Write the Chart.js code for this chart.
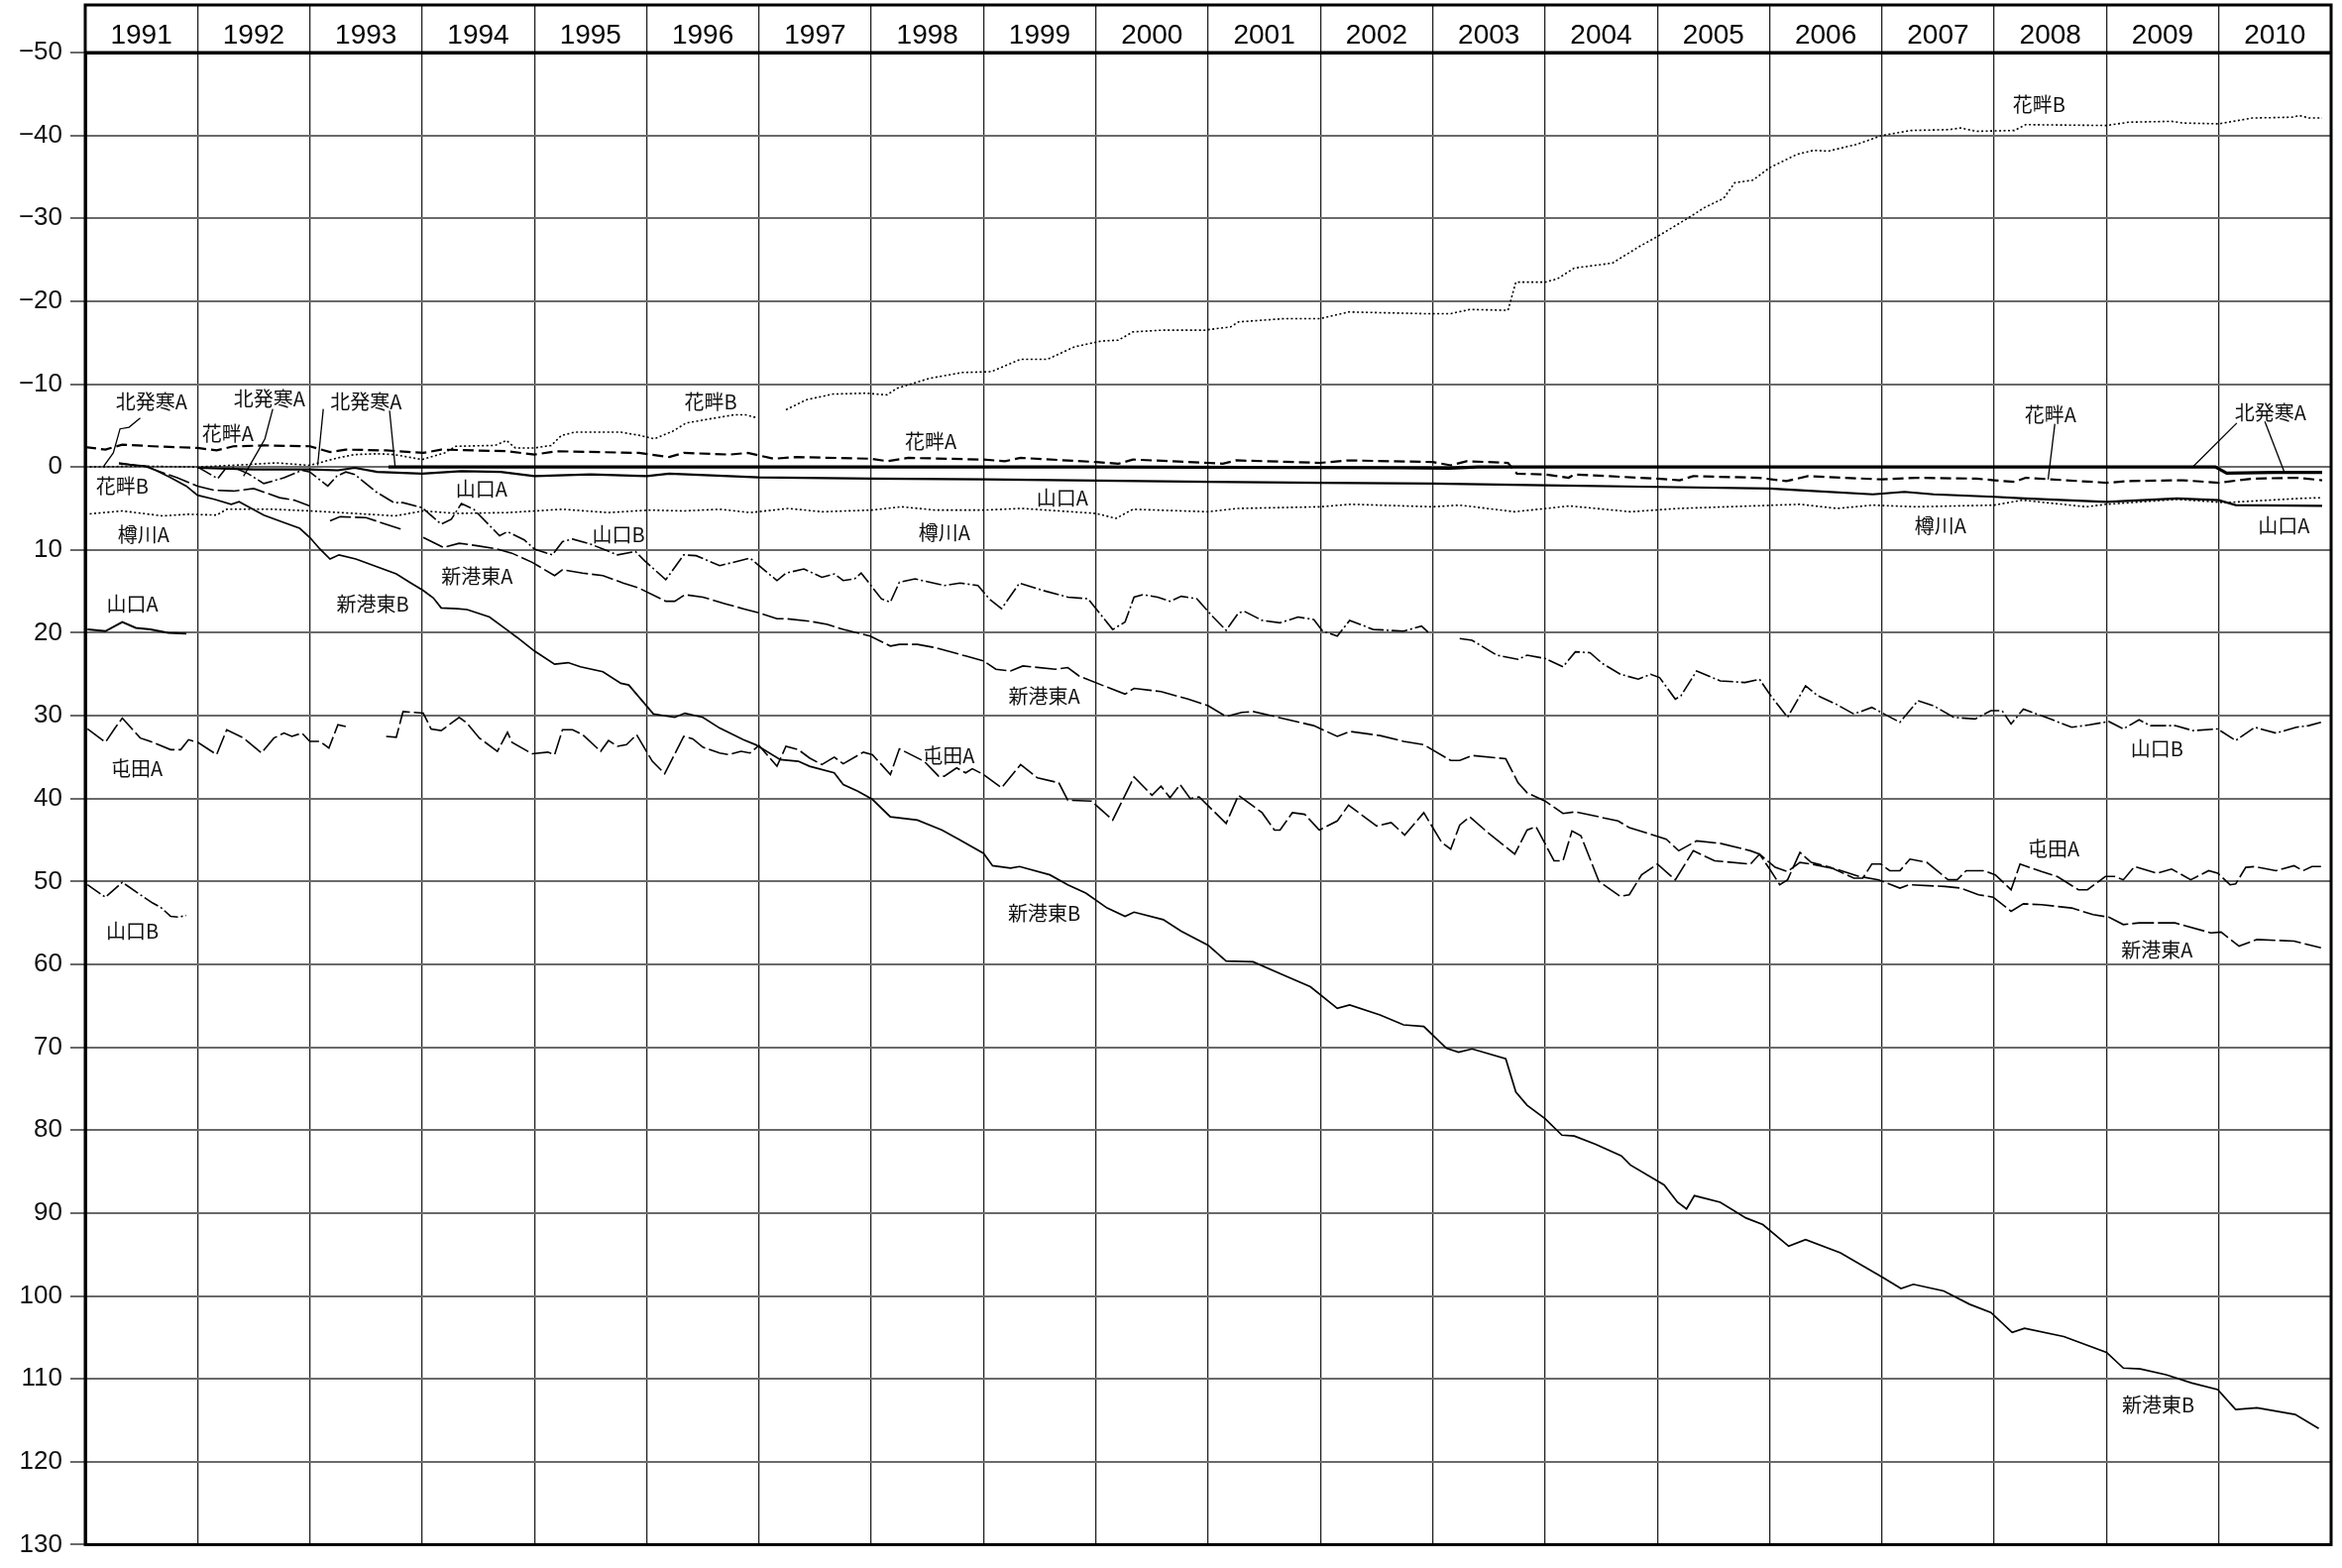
<!DOCTYPE html>
<html>
<head>
<meta charset="utf-8" />
<title>累積沈下量 1991-2010</title>
<script src="https://cdn.jsdelivr.net/npm/chart.js@4.4.1/dist/chart.umd.min.js"></script>
<style>
  html, body { margin: 0; padding: 0; background: #fff; }
</style>
</head>
<body>
<canvas id="myChart" width="2363" height="1582"></canvas>
<script>
// years shown in the header row, depth ticks on the left
var years = [1991,1992,1993,1994,1995,1996,1997,1998,1999,2000,2001,2002,2003,2004,2005,2006,2007,2008,2009,2010];
var depthTicks = [-50,-40,-30,-20,-10,0,10,20,30,40,50,60,70,80,90,100,110,120,130];

// [decimal year, value]; null = no survey (gap in line)
var kitahassamuA = [[1993.7,0],[1996,0],[2000,0],[2002.7,0.1],[2003.15,0.15],[2003.4,0],[2009.97,0],[2010.07,0.75],[2010.5,0.65],[2010.92,0.65]];

var hanaguroA = [[1991.0,-2.4],[1991.18,-2.1],[1991.33,-2.7],[1991.6,-2.5],[1992.0,-2.3],[1992.17,-2.0],[1992.32,-2.5],[1992.6,-2.6],[1993.0,-2.5],[1993.18,-1.8],[1993.32,-2.1],[1993.68,-2.0],[1994.01,-1.7],[1994.17,-2.1],[1994.76,-1.9],[1995.0,-1.5],[1995.2,-1.9],[1995.93,-1.7],[1996.2,-1.2],[1996.33,-1.7],[1996.74,-1.5],[1996.9,-1.7],[1997.13,-1.0],[1997.33,-1.2],[1998.0,-1.0],[1998.14,-0.7],[1998.33,-1.1],[1999.0,-0.9],[1999.19,-0.7],[1999.33,-1.1],[2000.0,-0.6],[2000.2,-0.4],[2000.33,-0.9],[2001.0,-0.5],[2001.13,-0.4],[2001.25,-0.8],[2002.0,-0.5],[2002.24,-0.8],[2003.0,-0.6],[2003.16,-0.2],[2003.3,-0.7],[2003.67,-0.5],[2003.75,0.8],[2004.0,0.9],[2004.21,1.3],[2004.26,0.9],[2005.0,1.4],[2005.2,1.6],[2005.32,1.1],[2005.9,1.3],[2006.15,1.7],[2006.34,1.1],[2007.0,1.5],[2007.3,1.3],[2007.84,1.4],[2008.0,1.6],[2008.18,1.8],[2008.28,1.3],[2009.0,1.9],[2009.2,1.7],[2009.68,1.6],[2010.0,1.9],[2010.3,1.4],[2010.7,1.3],[2010.92,1.6]];

var hanaguroB = [[1991.0,0],[1991.5,-0.1],[1992.0,0],[1992.45,-0.3],[1992.7,-0.5],[1993.0,-0.2],[1993.08,-0.5],[1993.25,-1.1],[1993.4,-1.5],[1993.6,-1.6],[1993.75,-1.5],[1994.0,-0.9],[1994.2,-1.7],[1994.3,-2.5],[1994.65,-2.6],[1994.75,-3.2],[1994.83,-2.3],[1995.0,-2.3],[1995.15,-2.6],[1995.24,-3.8],[1995.36,-4.2],[1995.77,-4.2],[1995.94,-3.8],[1996.07,-3.4],[1996.23,-4.3],[1996.35,-5.3],[1996.56,-5.8],[1996.78,-6.3],[1996.88,-6.3],[1996.99,-5.9],[1997.1,null],[1997.24,-6.9],[1997.42,-8.1],[1997.66,-8.8],[1997.95,-8.9],[1998.14,-8.7],[1998.23,-9.5],[1998.52,-10.7],[1998.81,-11.4],[1999.07,-11.5],[1999.33,-13.0],[1999.57,-13.0],[1999.81,-14.5],[2000.05,-15.2],[2000.2,-15.3],[2000.33,-16.3],[2000.58,-16.5],[2000.96,-16.5],[2001.2,-16.9],[2001.27,-17.5],[2001.68,-17.9],[2002.0,-17.9],[2002.25,-18.7],[2002.91,-18.5],[2003.16,-18.5],[2003.33,-19.0],[2003.67,-18.9],[2003.74,-22.3],[2004.0,-22.3],[2004.11,-22.7],[2004.26,-24.0],[2004.6,-24.6],[2004.84,-26.6],[2005.0,-27.8],[2005.27,-30.0],[2005.42,-31.3],[2005.59,-32.4],[2005.69,-34.3],[2005.85,-34.6],[2006.0,-36.1],[2006.24,-37.7],[2006.39,-38.2],[2006.52,-38.1],[2006.77,-38.9],[2007.0,-40.0],[2007.26,-40.6],[2007.6,-40.7],[2007.7,-40.9],[2007.84,-40.5],[2008.18,-40.6],[2008.28,-41.3],[2009.0,-41.2],[2009.2,-41.6],[2009.58,-41.7],[2009.68,-41.5],[2010.0,-41.4],[2010.3,-42.1],[2010.65,-42.2],[2010.72,-42.4],[2010.8,-42.1],[2010.92,-42.1]];

var tarukawaA = [[1991.0,5.7],[1991.33,5.3],[1991.69,5.9],[1991.92,5.7],[1992.17,5.8],[1992.26,5.1],[1992.68,5.1],[1993.0,5.3],[1993.4,5.6],[1993.76,5.9],[1994.01,5.3],[1994.3,5.6],[1994.76,5.5],[1995.25,5.1],[1995.66,5.5],[1996.02,5.2],[1996.33,5.3],[1996.65,5.1],[1996.92,5.5],[1997.26,5.0],[1997.56,5.4],[1998.0,5.2],[1998.27,4.8],[1998.57,5.2],[1999.0,5.2],[1999.34,5.0],[2000.0,5.6],[2000.18,6.2],[2000.33,5.1],[2001.0,5.4],[2001.26,5.0],[2002.0,4.8],[2002.27,4.5],[2003.0,4.8],[2003.24,4.6],[2003.73,5.4],[2004.22,4.7],[2004.76,5.4],[2005.19,5.0],[2005.84,4.7],[2006.27,4.5],[2006.6,5.0],[2006.92,4.6],[2007.3,4.8],[2008.0,4.6],[2008.25,4.0],[2008.82,4.8],[2009.0,4.5],[2009.63,3.9],[2010.06,4.3],[2010.71,3.8],[2010.92,3.7]];

var yamaguchiA1991 = [[1991.02,19.6],[1991.18,19.8],[1991.33,18.7],[1991.45,19.4],[1991.58,19.6],[1991.74,20.0],[1991.9,20.1]];
var yamaguchiA = [[1992.0,0.1],[1992.5,0.3],[1993.0,0.3],[1993.25,0.4],[1993.4,0.1],[1993.6,0.6],[1994.0,0.8],[1994.35,0.5],[1994.7,0.6],[1995.0,1.1],[1995.5,0.9],[1996.0,1.1],[1996.2,0.8],[1997.0,1.25],[1998.0,1.4],[1999.0,1.5],[2000.0,1.65],[2001.0,1.8],[2002.0,1.9],[2003.0,2.0],[2004.0,2.2],[2005.0,2.4],[2006.0,2.6],[2006.27,2.8],[2006.92,3.3],[2007.2,3.0],[2007.46,3.3],[2008.0,3.6],[2008.27,3.8],[2009.0,4.2],[2009.63,3.8],[2010.0,4.0],[2010.15,4.6],[2010.92,4.7]];

var yamaguchiB1991 = [[1991.02,50.4],[1991.18,51.9],[1991.33,50.1],[1991.49,51.6],[1991.6,52.6],[1991.67,53.1],[1991.76,54.2],[1991.83,54.3],[1991.9,54.1]];
var yamaguchiB = [[1992.0,0],[1992.18,1.4],[1992.25,0.2],[1992.33,0.1],[1992.45,0.8],[1992.59,2.0],[1992.77,1.3],[1992.93,0.4],[1993.0,0.6],[1993.16,2.3],[1993.24,1.1],[1993.32,0.6],[1993.4,0.9],[1993.59,3.0],[1993.75,4.3],[1993.83,4.3],[1994.0,4.9],[1994.17,6.9],[1994.26,6.3],[1994.35,4.4],[1994.46,5.1],[1994.69,8.3],[1994.76,7.8],[1994.91,8.8],[1995.0,9.9],[1995.16,10.6],[1995.25,9.0],[1995.34,8.7],[1995.5,9.3],[1995.74,10.6],[1995.9,10.2],[1995.98,11.3],[1996.17,13.6],[1996.33,10.6],[1996.44,10.7],[1996.65,11.9],[1996.92,11.0],[1997.16,13.7],[1997.24,12.8],[1997.4,12.3],[1997.56,13.3],[1997.67,12.9],[1997.75,13.7],[1997.85,13.5],[1997.91,12.8],[1998.09,15.9],[1998.17,16.3],[1998.25,13.9],[1998.39,13.5],[1998.65,14.3],[1998.79,14.0],[1998.95,14.3],[1999.05,15.9],[1999.16,17.1],[1999.32,14.0],[1999.53,14.9],[1999.75,15.7],[1999.93,15.9],[2000.15,19.6],[2000.26,18.7],[2000.34,15.7],[2000.42,15.4],[2000.55,15.7],[2000.66,16.2],[2000.76,15.6],[2000.9,15.9],[2001.03,17.9],[2001.16,19.7],[2001.27,17.6],[2001.32,17.4],[2001.48,18.5],[2001.64,18.8],[2001.8,18.1],[2001.94,18.4],[2002.02,19.8],[2002.15,20.4],[2002.26,18.5],[2002.47,19.6],[2002.74,19.8],[2002.9,19.2],[2002.98,20.2],[2003.1,null],[2003.24,20.7],[2003.35,20.9],[2003.57,22.7],[2003.76,23.2],[2003.84,22.7],[2004.0,23.1],[2004.16,24.1],[2004.27,22.3],[2004.4,22.4],[2004.51,23.7],[2004.67,25.0],[2004.83,25.6],[2004.94,25.0],[2005.02,25.4],[2005.16,28.0],[2005.21,27.6],[2005.35,24.6],[2005.56,25.8],[2005.78,26.0],[2005.91,25.6],[2006.0,27.4],[2006.16,30.2],[2006.32,26.4],[2006.43,27.6],[2006.59,28.6],[2006.75,29.8],[2006.91,29.0],[2007.02,29.8],[2007.16,30.8],[2007.32,28.2],[2007.46,28.8],[2007.64,30.2],[2007.83,30.4],[2007.97,29.4],[2008.07,29.4],[2008.15,31.0],[2008.26,29.2],[2008.48,30.3],[2008.69,31.4],[2008.85,31.1],[2009.02,30.7],[2009.15,31.6],[2009.29,30.5],[2009.39,31.2],[2009.61,31.2],[2009.77,31.8],[2009.99,31.6],[2010.15,33.0],[2010.32,31.4],[2010.51,32.1],[2010.69,31.4],[2010.8,31.2],[2010.91,30.8]];

var shinkoHigashiA = [[1991.3,-0.5],[1991.55,0],[1991.82,1.3],[1992.0,2.3],[1992.15,2.8],[1992.32,2.9],[1992.5,2.6],[1992.73,3.7],[1992.86,4.0],[1993.0,4.7],[1993.08,null],[1993.18,6.5],[1993.27,6.0],[1993.5,6.1],[1993.81,7.5],[1993.9,null],[1994.01,8.5],[1994.19,9.7],[1994.33,9.2],[1994.49,9.5],[1994.67,9.9],[1994.8,10.4],[1994.98,11.5],[1995.18,13.1],[1995.25,12.4],[1995.43,12.8],[1995.61,13.1],[1995.79,14.0],[1995.93,14.6],[1996.17,16.2],[1996.25,16.2],[1996.34,15.4],[1996.5,15.7],[1996.7,16.5],[1996.86,17.1],[1997.0,17.6],[1997.16,18.3],[1997.24,18.3],[1997.45,18.6],[1997.61,19.0],[1997.75,19.6],[1997.99,20.4],[1998.17,21.6],[1998.25,21.4],[1998.41,21.4],[1998.57,21.8],[1998.84,22.8],[1999.0,23.4],[1999.11,24.4],[1999.24,24.6],[1999.35,24.0],[1999.64,24.4],[1999.75,24.2],[1999.85,25.2],[2000.07,26.4],[2000.26,27.4],[2000.34,26.7],[2000.58,27.1],[2000.82,28.0],[2001.0,28.8],[2001.16,30.1],[2001.3,29.6],[2001.4,29.5],[2001.56,30.0],[2001.94,31.2],[2002.15,32.5],[2002.26,31.9],[2002.53,32.4],[2002.74,33.1],[2002.92,33.5],[2003.16,35.4],[2003.24,35.4],[2003.35,34.8],[2003.65,35.2],[2003.76,38.1],[2003.84,39.3],[2004.0,40.3],[2004.16,41.8],[2004.27,41.6],[2004.65,42.7],[2004.75,43.5],[2005.08,44.9],[2005.19,46.3],[2005.35,45.1],[2005.56,45.4],[2005.83,46.3],[2005.91,46.7],[2006.05,48.3],[2006.16,48.8],[2006.27,47.7],[2006.37,47.9],[2006.59,48.5],[2006.8,49.4],[2006.97,49.8],[2007.16,50.8],[2007.24,50.4],[2007.56,50.6],[2007.7,50.8],[2007.86,51.6],[2007.99,51.9],[2008.15,53.6],[2008.26,52.7],[2008.42,52.8],[2008.69,53.2],[2008.88,54.0],[2009.02,54.3],[2009.15,55.2],[2009.29,55.0],[2009.61,55.0],[2009.93,56.2],[2010.02,56.1],[2010.18,57.8],[2010.34,57.0],[2010.67,57.2],[2010.91,58.0]];

var shinkoHigashiB = [[1991.3,-0.4],[1991.55,-0.1],[1991.75,1.2],[1991.9,2.3],[1992.0,3.4],[1992.15,3.9],[1992.3,4.5],[1992.37,4.2],[1992.59,5.8],[1992.77,6.7],[1992.91,7.4],[1993.0,8.5],[1993.09,9.9],[1993.18,11.1],[1993.26,10.6],[1993.41,11.1],[1993.59,12.0],[1993.77,12.9],[1993.9,14.0],[1994.01,14.9],[1994.1,15.8],[1994.17,17.0],[1994.31,17.1],[1994.4,17.2],[1994.6,18.1],[1994.76,19.7],[1994.85,20.6],[1995.0,22.2],[1995.18,23.8],[1995.3,23.6],[1995.41,24.1],[1995.61,24.7],[1995.77,26.1],[1995.84,26.3],[1996.06,29.8],[1996.25,30.2],[1996.34,29.7],[1996.5,30.2],[1996.65,31.5],[1996.86,32.9],[1996.97,33.5],[1997.19,35.3],[1997.35,35.5],[1997.45,36.1],[1997.67,36.9],[1997.75,38.3],[1997.88,39.1],[1998.01,40.1],[1998.17,42.2],[1998.41,42.6],[1998.63,43.8],[1998.79,45.0],[1999.0,46.6],[1999.08,48.1],[1999.24,48.4],[1999.32,48.2],[1999.59,49.2],[1999.75,50.4],[1999.91,51.4],[2000.1,53.2],[2000.26,54.2],[2000.34,53.7],[2000.6,54.6],[2000.76,56.0],[2001.0,57.7],[2001.16,59.6],[2001.4,59.7],[2001.67,61.3],[2001.91,62.7],[2002.15,65.3],[2002.26,64.9],[2002.53,66.1],[2002.74,67.3],[2002.92,67.5],[2003.12,70.1],[2003.23,70.6],[2003.35,70.2],[2003.65,71.4],[2003.74,75.4],[2003.84,77.0],[2004.0,78.6],[2004.15,80.6],[2004.26,80.7],[2004.45,81.7],[2004.68,83.1],[2004.76,84.2],[2005.06,86.6],[2005.18,88.7],[2005.26,89.5],[2005.33,87.9],[2005.56,88.7],[2005.79,90.6],[2005.94,91.4],[2006.17,94.0],[2006.32,93.2],[2006.63,94.8],[2007.01,97.8],[2007.17,99.1],[2007.28,98.6],[2007.55,99.4],[2007.78,101.0],[2007.97,102.0],[2008.16,104.4],[2008.27,103.9],[2008.62,104.9],[2009.0,106.8],[2009.15,108.7],[2009.3,108.8],[2009.53,109.5],[2009.76,110.5],[2009.99,111.3],[2010.15,113.7],[2010.34,113.5],[2010.68,114.3],[2010.89,116.0]];

var tondenA = [[1991.02,31.6],[1991.18,33.2],[1991.27,31.4],[1991.33,30.3],[1991.49,32.7],[1991.56,33.0],[1991.76,34.1],[1991.85,34.1],[1991.92,32.9],[1992.0,33.2],[1992.17,34.7],[1992.26,31.7],[1992.41,32.7],[1992.57,34.5],[1992.68,32.7],[1992.77,32.1],[1992.84,32.5],[1992.93,32.1],[1993.0,33.1],[1993.09,33.1],[1993.17,33.9],[1993.25,31.1],[1993.32,31.3],[1993.5,null],[1993.68,32.5],[1993.77,32.6],[1993.83,29.5],[1994.01,29.7],[1994.08,31.6],[1994.17,31.8],[1994.33,30.2],[1994.4,30.9],[1994.51,32.7],[1994.67,34.3],[1994.76,32.0],[1994.8,33.2],[1994.98,34.6],[1995.12,34.4],[1995.18,34.7],[1995.25,31.7],[1995.34,31.7],[1995.43,32.3],[1995.59,34.3],[1995.66,33.0],[1995.74,33.7],[1995.82,33.5],[1995.91,32.3],[1996.05,35.5],[1996.16,37.0],[1996.33,32.5],[1996.41,32.8],[1996.5,33.8],[1996.65,34.5],[1996.73,34.7],[1996.84,34.3],[1996.92,34.5],[1997.0,33.6],[1997.16,36.1],[1997.24,33.7],[1997.35,34.1],[1997.45,35.1],[1997.56,35.9],[1997.67,35.0],[1997.75,35.8],[1997.93,34.4],[1998.01,34.7],[1998.17,37.1],[1998.25,34.0],[1998.47,35.5],[1998.6,37.3],[1998.65,37.3],[1998.76,36.3],[1998.84,36.9],[1998.9,36.4],[1999.0,37.1],[1999.16,38.7],[1999.33,35.9],[1999.48,37.5],[1999.67,38.1],[1999.75,40.2],[1999.96,40.3],[2000.15,42.6],[2000.34,37.4],[2000.5,39.6],[2000.58,38.5],[2000.66,39.9],[2000.75,38.3],[2000.84,40.0],[2000.92,39.8],[2001.16,43.0],[2001.27,39.6],[2001.48,41.7],[2001.59,43.8],[2001.64,43.8],[2001.75,41.7],[2001.86,41.9],[2001.99,43.8],[2002.15,42.7],[2002.25,40.8],[2002.5,43.3],[2002.63,42.9],[2002.75,44.4],[2002.92,41.7],[2003.08,45.3],[2003.16,46.1],[2003.24,43.2],[2003.33,42.2],[2003.49,44.1],[2003.73,46.7],[2003.84,43.8],[2003.92,43.4],[2004.08,47.5],[2004.16,47.5],[2004.24,43.9],[2004.32,44.5],[2004.48,50.0],[2004.67,51.8],[2004.75,51.6],[2004.86,49.2],[2005.0,47.9],[2005.16,49.8],[2005.32,46.3],[2005.51,47.5],[2005.83,47.9],[2005.91,46.7],[2006.0,48.5],[2006.09,50.4],[2006.16,49.8],[2006.27,46.5],[2006.37,47.7],[2006.54,48.3],[2006.75,49.6],[2006.83,49.6],[2006.91,47.9],[2006.99,47.9],[2007.07,48.7],[2007.16,48.7],[2007.25,47.3],[2007.4,47.7],[2007.59,49.8],[2007.67,49.8],[2007.75,48.7],[2007.91,48.7],[2008.01,49.2],[2008.15,51.0],[2008.23,47.9],[2008.42,48.8],[2008.56,49.4],[2008.75,51.0],[2008.83,51.0],[2008.99,49.4],[2009.07,49.4],[2009.15,49.8],[2009.25,48.2],[2009.45,49.0],[2009.58,48.5],[2009.75,49.8],[2009.91,48.7],[2009.99,49.0],[2010.1,50.4],[2010.15,50.3],[2010.24,48.3],[2010.32,48.2],[2010.51,48.7],[2010.67,48.1],[2010.75,48.7],[2010.83,48.2],[2010.91,48.2]];

// point names written on the chart: [text, year, value]
var pointNames = [
  ['北発寒A',1991.59,-7.9],['北発寒A',1992.64,-8.2],['北発寒A',1993.5,-7.9],['花畔A',1992.27,-4.0],
  ['花畔B',1991.33,2.3],['樽川A',1991.52,8.2],['山口A',1991.42,16.5],['屯田A',1991.46,36.4],['山口B',1991.42,56.0],
  ['山口A',1994.53,2.6],['新港東A',1994.49,13.2],['新港東B',1993.56,16.5],['山口B',1995.75,8.1],
  ['花畔B',1996.57,-7.9],['花畔A',1998.53,-3.1],['山口A',1999.7,3.7],['樽川A',1998.65,7.9],
  ['新港東A',1999.54,27.7],['屯田A',1998.69,34.8],['新港東B',1999.54,53.8],
  ['花畔B',2008.4,-43.7],['花畔A',2008.5,-6.3],['北発寒A',2010.46,-6.6],['樽川A',2007.52,7.1],['山口A',2010.58,7.1],
  ['山口B',2009.45,34.0],['屯田A',2008.53,46.1],['新港東A',2009.45,58.3],['新港東B',2009.46,113.1]
];

// leader lines from names to their lines
var leaders = [
  [[1991.16,0],[1991.25,-1.7],[1991.31,-4.6],[1991.39,-4.8],[1991.49,-5.9]],
  [[1992.41,1.1],[1992.53,-1.7],[1992.6,-3.4],[1992.67,-7.0]],
  [[1993.07,-0.2],[1993.12,-7.0]],
  [[1993.76,0],[1993.71,-6.8]],
  [[2008.48,1.5],[2008.54,-5.2]],
  [[2009.76,0.1],[2010.16,-5.3]],
  [[2010.58,0.5],[2010.41,-5.5]]
];

function series(pts, width, dash) {
  return {
    data: pts.map(function(p) { return {x: p[0], y: p[1]}; }),
    borderColor: '#000',
    borderWidth: width,
    borderDash: dash,
    pointRadius: 0,
    tension: 0,
    fill: false,
    spanGaps: false
  };
}

var dotted = [2, 2.5];
var headerTop = 5;

var chartFrame = {
  id: 'chartFrame',
  afterDraw: function(chart) {
    var ctx = chart.ctx, a = chart.chartArea;
    var xs = chart.scales.x, ys = chart.scales.y;
    ctx.save();
    ctx.strokeStyle = '#000';
    // outer border incl. header row
    ctx.lineWidth = 3;
    ctx.strokeRect(a.left, headerTop, a.right - a.left, a.bottom - headerTop);
    ctx.beginPath();
    ctx.moveTo(a.left, a.top); ctx.lineTo(a.right, a.top);
    ctx.stroke();

    // leaders
    ctx.lineWidth = 1.3;
    leaders.forEach(function(l) {
      ctx.beginPath();
      l.forEach(function(p, i) {
        var px = xs.getPixelForValue(p[0]), py = ys.getPixelForValue(p[1]);
        if (i === 0) ctx.moveTo(px, py); else ctx.lineTo(px, py);
      });
      ctx.stroke();
    });

    // names
    ctx.fillStyle = '#111';
    ctx.font = '20px "Noto Sans CJK JP"';
    ctx.textAlign = 'center';
    ctx.textBaseline = 'middle';
    pointNames.forEach(function(n) {
      ctx.fillText(n[0], xs.getPixelForValue(n[1]), ys.getPixelForValue(n[2]));
    });
    ctx.restore();
  }
};

var ctx = document.getElementById('myChart').getContext('2d');
var chart = new Chart(ctx, {
  type: 'line',
  data: {
    datasets: [
      series(kitahassamuA, 3.2, []),
      series(hanaguroA, 2.2, [11, 5]),
      series(hanaguroB, 1.6, dotted),
      series(tarukawaA, 1.6, dotted),
      series(yamaguchiA1991, 2, []),
      series(yamaguchiA, 2.2, []),
      series(yamaguchiB1991, 1.6, [16, 3, 2, 3]),
      series(yamaguchiB, 1.6, [16, 3, 2, 3]),
      series(shinkoHigashiA, 1.6, [22, 4]),
      series(shinkoHigashiB, 1.7, []),
      series(tondenA, 1.6, [20, 4])
    ]
  },
  options: {
    responsive: false,
    animation: false,
    devicePixelRatio: 1,
    layout: { padding: { top: headerTop, right: 11, bottom: 15, left: 0 } },
    plugins: { legend: { display: false }, tooltip: { enabled: false } },
    scales: {
      x: {
        type: 'linear',
        position: 'top',
        min: 1991,
        max: 2011,
        afterBuildTicks: function(axis) {
          axis.ticks = years.concat([2011]).map(function(v) { return {value: v}; });
        },
        afterFit: function(s) { s.height = 48; },
        grid: { color: '#222', lineWidth: 1.3, tickLength: 48 },
        border: { color: '#000', width: 3 },
        ticks: {
          autoSkip: false,
          maxRotation: 0,
          labelOffset: 56.6,
          padding: -48,
          color: '#000',
          font: { family: '"Liberation Sans", Arial, sans-serif', size: 28 },
          callback: function(v) { return years.indexOf(v) >= 0 ? String(v) : ''; }
        }
      },
      y: {
        type: 'linear',
        reverse: true,
        min: -50,
        max: 130,
        afterBuildTicks: function(axis) {
          axis.ticks = depthTicks.map(function(v) { return {value: v}; });
        },
        afterFit: function(s) { s.width = 86; },
        grid: { color: '#6a6a6a', lineWidth: 2, tickLength: 15 },
        border: { color: '#000', width: 3 },
        ticks: {
          autoSkip: false,
          padding: 8,
          color: '#111',
          font: { family: '"Liberation Sans", Arial, sans-serif', size: 26 },
          callback: function(v) { return v < 0 ? '\u2212' + Math.abs(v) : String(v); }
        }
      }
    }
  },
  plugins: [chartFrame]
});
</script>
</body>
</html>
